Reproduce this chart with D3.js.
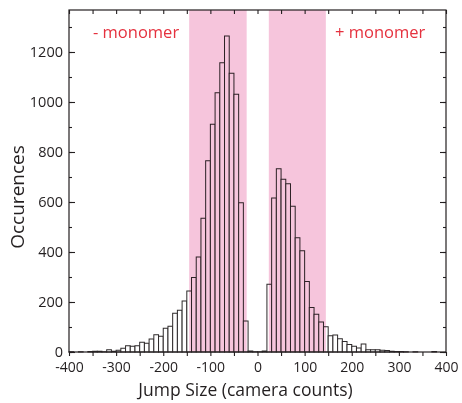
<!DOCTYPE html>
<html>
<head>
<meta charset="utf-8">
<script src="https://cdn.jsdelivr.net/npm/d3@7"></script>
<style>
  body { margin: 0; background: #fff; }
  text { font-family: "Open Sans", "Noto Sans", sans-serif; fill: #231f20; }
</style>
</head>
<body>
<div id="chart"></div>
<script>
///////// data //////////
// left edge of every 10-count bin
let bin_left = [
  -400, -390, -380, -370, -360, -350, -340, -330, -320, -310,
  -300, -290, -280, -270, -260, -250, -240, -230, -220, -210,
  -200, -190, -180, -170, -160, -150, -140, -130, -120, -110,
  -100,  -90,  -80,  -70,  -60,  -50,  -40,  -30,  -20,  -10,
     0,   10,   20,   30,   40,   50,   60,   70,   80,   90,
   100,  110,  120,  130,  140,  150,  160,  170,  180,  190,
   200,  210,  220,  230,  240,  250,  260,  270,  280,  290,
   300,  310,  320,  330,  340,  350,  360,  370,  380,  390
];
let counts = [
     1,    0,    1,    0,    2,    3,    3,    1,    9,    3,
     7,   15,   25,   23,   25,   39,   35,   52,   69,   63,
    95,  103,  155,  167,  204,  244,  298,  380,  535,  765,
   911, 1037, 1157, 1264, 1115, 1031,  597,  124,    4,    1,
     1,    4,  271,  616,  733,  691,  673,  583,  457,  405,
   282,  178,  151,  120,  101,   65,   68,   53,   42,   30,
    23,   16,   32,    9,    9,    9,    7,    6,    3,    2,
     2,    1,    0,    1,    0,    0,    0,    2,    0,    0
];
let bin_width = 10;
let band_ranges = [[-145, -23], [24, 145]];
let band_labels = ["- monomer", "+ monomer"];
let x_tick_values = [-400, -300, -200, -100, 0, 100, 200, 300, 400];
let y_tick_values = [0, 200, 400, 600, 800, 1000, 1200];

///////// chart //////////
var margin = {top: 10, right: 16, bottom: 51, left: 69},
    width = 462 - margin.left - margin.right,
    height = 403 - margin.top - margin.bottom;

var svg = d3.select("#chart")
  .append("svg")
  .attr("width", 462)
  .attr("height", 403)
  .append("g")
  .attr("transform", "translate(" + margin.left + "," + margin.top + ")");

var x = d3.scaleLinear().domain([-400, 400]).range([0, width]);
var y = d3.scaleLinear().domain([0, 1368]).range([height, 0]);

let datas = bin_left.map((b, i) => [b, counts[i]]);

// bars
svg.selectAll("rect.bar")
  .data(datas)
  .enter()
  .append("rect")
  .attr("class", "bar")
  .attr("x", d => x(d[0]))
  .attr("y", d => y(d[1]))
  .attr("width", d => x(d[0] + bin_width) - x(d[0]))
  .attr("height", d => y(0) - y(d[1]))
  .attr("fill", "#fff")
  .attr("stroke", "#2e2a2b")
  .attr("stroke-width", 1);

// pink bands, multiplied over the bars
svg.selectAll("rect.band")
  .data(band_ranges)
  .enter()
  .append("rect")
  .attr("class", "band")
  .attr("x", d => x(d[0]))
  .attr("y", 0)
  .attr("width", d => x(d[1]) - x(d[0]))
  .attr("height", height)
  .attr("fill", "#f6c5dc")
  .style("mix-blend-mode", "multiply");

// labels
svg.append("text")
  .attr("x", 24).attr("y", 28)
  .style("font-size", "16.5px").style("fill", "#e5313e")
  .text(band_labels[0]);
svg.append("text")
  .attr("x", 266).attr("y", 28)
  .style("font-size", "16.5px").style("fill", "#e5313e")
  .text(band_labels[1]);

// axes
let x_minor = d3.range(-400, 401, 50);
let y_minor = d3.range(0, 1301, 100);
let plain = d => String(d);

function styleAxis(g) {
  g.select(".domain").remove();
  g.selectAll("line").attr("stroke", "#231f20").attr("stroke-width", 1.1);
  g.selectAll("text").style("font-size", "14.5px").attr("fill", "#231f20");
}

svg.append("g")
  .attr("transform", "translate(0," + height + ")")
  .call(d3.axisBottom(x).tickValues(x_minor).tickSize(4).tickFormat(""))
  .call(styleAxis);
svg.append("g")
  .attr("transform", "translate(0," + height + ")")
  .call(d3.axisBottom(x).tickValues(x_tick_values).tickSize(0).tickPadding(10).tickFormat(plain))
  .call(styleAxis)
  .call(g => g.selectAll("text").style("font-size", "14px"));
svg.append("g")
  .call(d3.axisTop(x).tickValues(x_minor).tickSize(-4).tickFormat(""))
  .call(styleAxis);

svg.append("g")
  .call(d3.axisLeft(y).tickValues(y_minor).tickSize(-3).tickFormat(""))
  .call(styleAxis);
svg.append("g")
  .call(d3.axisLeft(y).tickValues(y_tick_values).tickSizeInner(-6).tickSizeOuter(0).tickPadding(6).tickFormat(plain))
  .call(styleAxis)
  .call(g => g.selectAll("text").attr("dy", "0.28em"));
svg.append("g")
  .attr("transform", "translate(" + width + ",0)")
  .call(d3.axisRight(y).tickValues(y_minor).tickSize(-3).tickFormat(""))
  .call(styleAxis);
svg.append("g")
  .attr("transform", "translate(" + width + ",0)")
  .call(d3.axisRight(y).tickValues(y_tick_values).tickSize(-6).tickFormat(""))
  .call(styleAxis);

// frame
svg.append("rect")
  .attr("x", 0).attr("y", 0)
  .attr("width", width).attr("height", height)
  .attr("fill", "none")
  .attr("stroke", "#231f20")
  .attr("stroke-width", 1.2);

// axis titles
svg.append("text")
  .attr("x", width / 2 - 12).attr("y", height + 44)
  .attr("text-anchor", "middle")
  .style("font-size", "17.5px")
  .text("Jump Size (camera counts)");
svg.append("text")
  .attr("transform", "translate(" + (-45) + "," + 187 + ")rotate(-90)")
  .attr("text-anchor", "middle")
  .style("font-size", "19px")
  .text("Occurences");
</script>
</body>
</html>
